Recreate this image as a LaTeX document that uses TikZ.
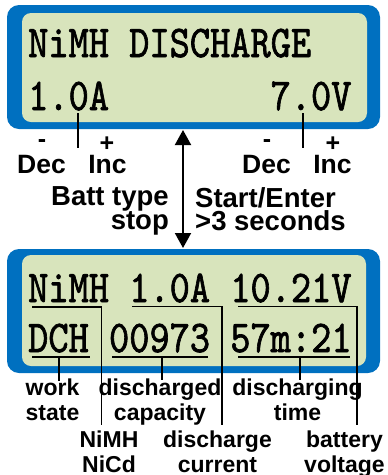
\documentclass[tikz,border=0pt]{standalone}
\usepackage{fontspec}
\setmainfont{Liberation Sans}
\newfontfamily\lcdfont{lmmono10-regular.otf}[FakeBold=1.6]
\usetikzlibrary{arrows.meta}
\definecolor{lcdblue}{RGB}{0,112,192}
\definecolor{lcdgreen}{RGB}{216,228,188}
\newcommand{\lcdtext}[1]{\scalebox{1}[1.18]{\lcdfont\fontsize{38.5}{40}\selectfont #1}}
\begin{document}
\begin{tikzpicture}[x=1pt,y=-1pt,
  frame/.style={fill=lcdblue, rounded corners=12pt},
  screen/.style={fill=lcdgreen, rounded corners=9pt},
  lcd/.style={anchor=base west, inner sep=0pt},
  lbl/.style={anchor=base, inner sep=0pt, font=\bfseries\fontsize{26.5}{28}\selectfont},
  mode/.style={inner sep=0pt, font=\bfseries\fontsize{27.5}{29}\selectfont},
  pm/.style={anchor=base, inner sep=0pt, font=\bfseries\fontsize{25}{26}\selectfont},
  sml/.style={anchor=base, inner sep=0pt, font=\bfseries\fontsize{23}{25}\selectfont},
  wire/.style={line width=1.2pt, draw=black},
  bigarrow/.style={line width=2pt, {Triangle[width=16pt,length=15pt]}-{Triangle[width=16pt,length=15pt]}}
]
\useasboundingbox (0,0) rectangle (388,475);
% panels
\path[frame] (7,5) rectangle (380,129);
\path[screen] (22,13) rectangle (367,122);
\path[frame] (7,249) rectangle (380,373);
\path[screen] (22,255) rectangle (366,366);
% LCD texts
\node[lcd] (t1) at (28,57) {\lcdtext{NiMH DISCHARGE}};
\node[lcd] (t2a) at (28,110) {\lcdtext{1.0A}};
\node[lcd] (t2b) at (270.4,110) {\lcdtext{7.0V}};
\node[lcd] (b1) at (28,302) {\lcdtext{NiMH 1.0A 10.21V}};
\node[lcd] (b2) at (28,352) {\lcdtext{DCH 00973 57m:21}};
% top labels
\node[pm] (minusL) at (42,147) {-};
\node[pm] (plusL) at (107,151) {+};
\node[pm] (minusR) at (267,147) {-};
\node[pm] (plusR) at (333,151) {+};
\node[lbl] (decL) at (41.5,173) {Dec};
\node[lbl] (incL) at (107.5,173) {Inc};
\node[lbl] (decR) at (266.5,173) {Dec};
\node[lbl] (incR) at (332.5,173) {Inc};
\node[mode, anchor=base east] (batt) at (169,205) {Batt type};
\node[mode, anchor=base east] (stop) at (169,229) {stop};
\node[mode, anchor=base west] (start) at (195,207) {Start/Enter};
\node[mode, anchor=base west] (secs) at (195,230) {>3 seconds};
% bottom labels
\node[sml] (work) at (52.5,395) {work};
\node[sml] (state) at (52.5,420) {state};
\node[sml] (dcap1) at (160,395) {discharged};
\node[sml] (dcap2) at (160,420) {capacity};
\node[sml] (dtime1) at (297.5,395) {discharging};
\node[sml] (dtime2) at (297.5,420) {time};
\node[sml] (nimh) at (109,447) {NiMH};
\node[sml] (nicd) at (109,472) {NiCd};
\node[sml] (dcur1) at (217.5,447) {discharge};
\node[sml] (dcur2) at (217.5,472) {current};
\node[sml] (bv1) at (344.5,447) {battery};
\node[sml] (bv2) at (344.5,472) {voltage};
% arrow between panels
\coordinate (topS) at (183,130);
\coordinate (botN) at (183,248);
\draw[bigarrow] (topS) -- (botN);
% top connectors
\coordinate (curTop) at (78,113);
\coordinate (curEnd) at (78,148);
\coordinate (volTop) at (303,113);
\coordinate (volEnd) at (303,148);
\draw[wire] (curTop) -- (curEnd);
\draw[wire] (volTop) -- (volEnd);
% bottom connectors, row 1
\coordinate (u1a) at (32,307);
\coordinate (u1b) at (101.5,307);
\coordinate (u1c) at (101.5,425);
\draw[wire] (u1a) -- (u1b) -- (u1c);
\coordinate (u2a) at (132,306.5);
\coordinate (u2b) at (222,306.5);
\coordinate (u2c) at (222,425);
\draw[wire] (u2a) -- (u2b) -- (u2c);
\coordinate (u3a) at (238,306.5);
\coordinate (u3b) at (357,306.5);
\coordinate (u3c) at (357,425);
\draw[wire] (u3a) -- (u3b) -- (u3c);
% bottom connectors, row 2
\coordinate (v1a) at (32,357);
\coordinate (v1b) at (90,357);
\coordinate (v1m) at (59,357);
\coordinate (v1e) at (59,381);
\draw[wire] (v1a) -- (v1b);
\draw[wire] (v1m) -- (v1e);
\coordinate (v2a) at (112,357);
\coordinate (v2b) at (208,357);
\coordinate (v2m) at (162,357);
\coordinate (v2e) at (162,380);
\draw[wire] (v2a) -- (v2b);
\draw[wire] (v2m) -- (v2e);
\coordinate (v3a) at (238,357);
\coordinate (v3b) at (350,357);
\coordinate (v3m) at (300,357);
\coordinate (v3e) at (300,380);
\draw[wire] (v3a) -- (v3b);
\draw[wire] (v3m) -- (v3e);
\end{tikzpicture}
\end{document}
